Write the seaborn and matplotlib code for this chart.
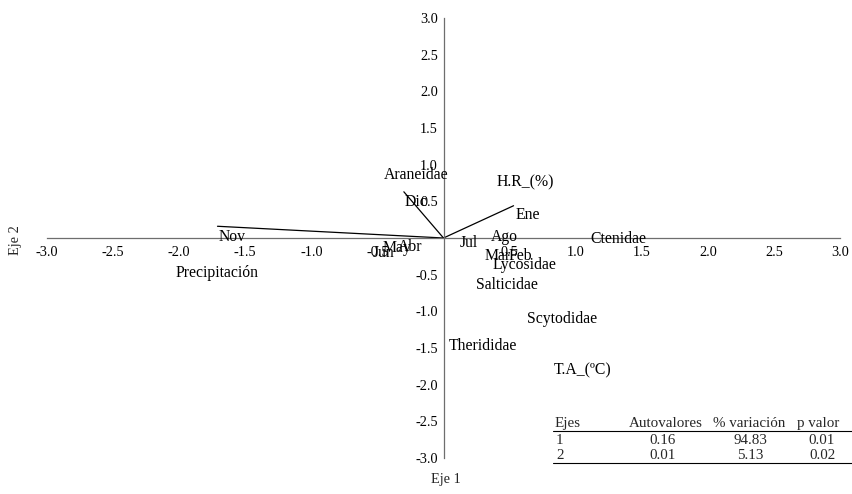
import matplotlib
matplotlib.use("Agg")
import matplotlib.pyplot as plt
import seaborn as sns
import pandas as pd
import numpy as np
from matplotlib.lines import Line2D

sns.set_theme(style="white")
plt.rcParams['font.family'] = ['Liberation Serif', 'DejaVu Serif']

# point labels (months and families)
point_names = ["Nov", "Dic", "Jun", "May", "Abr", "Jul", "Ago", "Mar", "Feb", "Ene",
               "Ctenidae", "Lycosidae", "Salticidae", "Scytodidae", "Therididae", "Araneidae"]
point_x = [-1.60, -0.21, -0.45, -0.35, -0.25, 0.19, 0.46, 0.41, 0.58, 0.64,
           1.32, 0.61, 0.48, 0.90, 0.30, -0.21]
point_y = [0.01, 0.49, -0.20, -0.13, -0.12, -0.07, 0.01, -0.25, -0.25, 0.31,
           -0.01, -0.37, -0.64, -1.11, -1.47, 0.86]

# environmental vectors
vec_names = ["Precipitación", "Araneidae_vec", "H.R_(%)"]
vec_x = [-1.71, -0.30, 0.53]
vec_y = [0.16, 0.63, 0.44]

# variable labels
var_names = ["Precipitación", "H.R_(%)", "T.A_(ºC)"]
var_x = [-1.71, 0.62, 1.05]
var_y = [-0.48, 0.76, -1.81]

ticks = [-3.0, -2.5, -2.0, -1.5, -1.0, -0.5, 0.5, 1.0, 1.5, 2.0, 2.5, 3.0]

table_header = ["Ejes", "Autovalores", "% variación", "p valor"]
table_rows = [["1", "0.16", "94.83", "0.01"],
              ["2", "0.01", "5.13", "0.02"]]

fig = plt.figure(figsize=(8.52, 4.94), dpi=100)
W, H = 852, 494
ax = fig.add_axes([47 / W, 36 / H, (840 - 47) / W, (458 - 18) / H])
ax.set_facecolor("white")

# vectors
rows = []
for n, x, y in zip(vec_names, vec_x, vec_y):
    rows.append({"v": n, "x": 0.0, "y": 0.0})
    rows.append({"v": n, "x": x, "y": y})
vdf = pd.DataFrame(rows)
sns.lineplot(data=vdf, x="x", y="y", units="v", estimator=None, sort=False,
             color="black", lw=0.9, ax=ax, legend=False)

fs = 11.3
for n, x, y in zip(point_names, point_x, point_y):
    ax.text(x, y, n, ha="center", va="center", fontsize=fs, color="black")
for n, x, y in zip(var_names, var_x, var_y):
    ax.text(x, y, n, ha="center", va="center", fontsize=fs, color="black")

ax.set_xlim(-3, 3)
ax.set_ylim(-3, 3)
ax.spines["left"].set_position(("data", 0))
ax.spines["bottom"].set_position(("data", 0))
ax.spines["right"].set_visible(False)
ax.spines["top"].set_visible(False)
for s in ["left", "bottom"]:
    ax.spines[s].set_color("#6e6e6e")
    ax.spines[s].set_linewidth(0.9)
ax.set_xticks(ticks)
ax.set_yticks(ticks)
ax.set_xticklabels([f"{t:.1f}" for t in ticks])
ax.set_yticklabels([f"{t:.1f}" for t in ticks])
tfs = 10.3
ax.tick_params(axis="x", direction="in", length=3, pad=6, labelsize=tfs, colors="black", width=0.8)
ax.tick_params(axis="y", direction="out", length=3, pad=1, labelsize=tfs, colors="black", width=0.8)
for t in ax.get_xticklines() + ax.get_yticklines():
    t.set_color("#6e6e6e")
ax.set_xlabel("")
ax.set_ylabel("")

fig.text(446 / W, 1 - 479 / H, "Eje 1", ha="center", va="center", fontsize=tfs)
fig.text(16 / W, 1 - 240 / H, "Eje 2", ha="center", va="center", fontsize=tfs, rotation=90)

# table
hy, r1y, r2y = 423, 440, 455
tbfs = 10.8
fig.text(555 / W, 1 - hy / H, table_header[0], ha="left", va="center", fontsize=tbfs)
head_c = [666, 749, 818]
val_c = [663, 750, 822]
for i, c in enumerate(head_c):
    fig.text(c / W, 1 - hy / H, table_header[i + 1], ha="center", va="center", fontsize=tbfs)
for ry, row in zip([r1y, r2y], table_rows):
    fig.text(556 / W, 1 - ry / H, row[0], ha="left", va="center", fontsize=tbfs)
    for i, c in enumerate(val_c):
        fig.text(c / W, 1 - ry / H, row[i + 1], ha="center", va="center", fontsize=tbfs)
for ly in [431, 463]:
    fig.add_artist(Line2D([553 / W, 852 / W], [1 - ly / H, 1 - ly / H], color="black", lw=0.8))

fig.savefig("out.png", dpi=100, facecolor="white")
